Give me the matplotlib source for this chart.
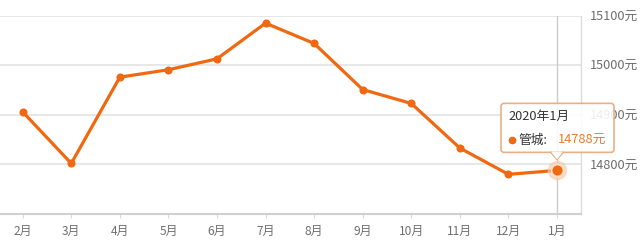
import matplotlib
matplotlib.use("Agg")
import matplotlib.pyplot as plt
import matplotlib.transforms as mtransforms
from matplotlib.patches import FancyBboxPatch, Polygon

plt.rcParams['font.family'] = ['Noto Sans CJK SC', 'DejaVu Sans']

months = ["2月", "3月", "4月", "5月", "6月", "7月", "8月", "9月", "10月", "11月", "12月", "1月"]
prices = [14906, 14802, 14976, 14991, 15013, 15085, 15044, 14951, 14923, 14833, 14780, 14788]
y_ticks = [14800, 14900, 15000, 15100]
y_labels = ["14800元", "14900元", "15000元", "15100元"]
series_name = "管城"
tip_title = "2020年1月"

LINE = "#f06810"
GRID = "#e3e3e3"
TXT = "#6e6e6e"

W, H = 640, 243
fig = plt.figure(figsize=(W / 100, H / 100), dpi=100)
fig.patch.set_facecolor("white")
ax = fig.add_axes([-1.6 / W, (H - 214) / H, 582.9 / W, (214 - 15.7) / H])
ax.set_facecolor("white")

x = list(range(len(months)))
ax.set_xlim(-0.5, len(months) - 0.5)
ax.set_ylim(14700, 15100)

# grid
ax.set_yticks(y_ticks)
ax.yaxis.grid(True, color=GRID, linewidth=1.2)
ax.set_axisbelow(True)
ax.yaxis.tick_right()
ax.set_yticklabels(y_labels, fontsize=9.2, color=TXT)
ax.tick_params(axis="y", length=0, pad=6.5)

ax.set_xticks(x)
ax.set_xticklabels(months, fontsize=8.6, color=TXT)
ax.tick_params(axis="x", length=3, width=0.8, color="#d8d8d8", pad=5)

for s in ["top", "left"]:
    ax.spines[s].set_visible(False)
ax.spines["right"].set_color("#dcdcdc")
ax.spines["right"].set_linewidth(1)
ax.spines["bottom"].set_color("#cfcfcf")
ax.spines["bottom"].set_linewidth(1.5)

# axis pointer on last category
last = len(months) - 1
ax.axvline(last, color="#cccccc", linewidth=1, zorder=1)

ax.plot(x, prices, color=LINE, linewidth=2.3, marker="o", markersize=4.8,
        markerfacecolor=LINE, markeredgecolor=LINE, zorder=3, solid_joinstyle="round")

# highlighted point
ax.plot([last], [prices[last]], marker="o", markersize=13, color="#f8c9a6",
        alpha=0.6, zorder=4, linestyle="none")
ax.plot([last], [prices[last]], marker="o", markersize=8.5, color=LINE,
        markeredgecolor="#fbe0cc", markeredgewidth=1.2, zorder=5, linestyle="none")

# tooltip anchored to highlighted point (pixel offsets)
px, py = ax.transData.transform((last, prices[last]))
tr = mtransforms.Affine2D().translate(px, py)

box = FancyBboxPatch((-56, 18), 113, 49, boxstyle="round,pad=0,rounding_size=3",
                     transform=tr, facecolor="white", alpha=0.88,
                     edgecolor="#e4a774", linewidth=1.2, zorder=6)
fig.patches.append(box)
tri = Polygon([(-6, 18.6), (6, 18.6), (0, 11)], closed=True, transform=tr,
              facecolor="white", edgecolor="none", zorder=7)
fig.patches.append(tri)
tri_edge = plt.Line2D([-6, 0, 6], [18, 11, 18], transform=tr, color="#e4a774",
                      linewidth=1.2, zorder=7)
fig.lines.append(tri_edge)

fig.text(-49, 54, tip_title, transform=tr, fontsize=9.2, color="#333333",
         va="center", ha="left", zorder=8)
fig.lines.append(plt.Line2D([-45], [30], transform=tr, marker="o", markersize=4.5,
                            color=LINE, linestyle="none", zorder=8))
fig.text(-39, 30, series_name + ":", transform=tr, fontsize=9.2, color="#333333",
         va="center", ha="left", zorder=8)
fig.text(1, 30, f"{prices[last]}元", transform=tr, fontsize=9.2, color="#e87c2e",
         va="center", ha="left", zorder=8)

fig.savefig("out.png", dpi=100, facecolor="white")
